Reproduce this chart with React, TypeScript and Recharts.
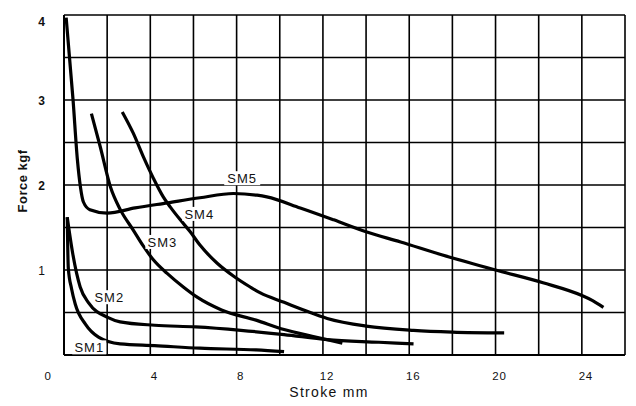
import { LineChart, Line, XAxis, YAxis, CartesianGrid, ReferenceDot } from 'recharts';

// stroke (mm) / force (kgf)
const sm1 = [
  { x: 0.15, y: 1.62 }, { x: 0.2, y: 1.02 }, { x: 0.35, y: 0.78 }, { x: 0.52, y: 0.6 },
  { x: 1.0, y: 0.36 }, { x: 1.6, y: 0.21 }, { x: 2.6, y: 0.13 }, { x: 4.2, y: 0.11 },
  { x: 6.3, y: 0.08 }, { x: 8.9, y: 0.06 }, { x: 10.2, y: 0.04 },
];
const sm2 = [
  { x: 0.15, y: 1.62 }, { x: 0.4, y: 1.2 }, { x: 0.75, y: 0.8 }, { x: 1.15, y: 0.61 },
  { x: 2.05, y: 0.44 }, { x: 2.6, y: 0.39 }, { x: 4.2, y: 0.35 }, { x: 6.1, y: 0.33 },
  { x: 8.2, y: 0.29 }, { x: 10.2, y: 0.24 }, { x: 12.2, y: 0.18 }, { x: 14.6, y: 0.15 },
  { x: 16.2, y: 0.13 },
];
const sm3 = [
  { x: 1.27, y: 2.84 }, { x: 1.68, y: 2.45 }, { x: 2.15, y: 1.98 }, { x: 2.61, y: 1.71 },
  { x: 3.21, y: 1.47 }, { x: 3.68, y: 1.28 }, { x: 4.14, y: 1.12 }, { x: 4.78, y: 0.96 },
  { x: 5.53, y: 0.8 }, { x: 6.17, y: 0.68 }, { x: 7.3, y: 0.53 }, { x: 8.9, y: 0.41 },
  { x: 10.2, y: 0.3 }, { x: 11.5, y: 0.22 }, { x: 12.9, y: 0.14 },
];
const sm4 = [
  { x: 2.7, y: 2.86 }, { x: 3.21, y: 2.61 }, { x: 3.68, y: 2.33 }, { x: 4.14, y: 2.08 },
  { x: 4.6, y: 1.86 }, { x: 4.93, y: 1.74 }, { x: 5.39, y: 1.59 }, { x: 5.85, y: 1.45 },
  { x: 6.31, y: 1.29 }, { x: 7.1, y: 1.08 }, { x: 7.85, y: 0.93 }, { x: 8.63, y: 0.8 },
  { x: 9.1, y: 0.73 }, { x: 10.2, y: 0.62 }, { x: 11.2, y: 0.52 }, { x: 12.2, y: 0.43 },
  { x: 14.0, y: 0.34 }, { x: 16.2, y: 0.29 }, { x: 18.0, y: 0.27 }, { x: 20.4, y: 0.26 },
];
const sm5 = [
  { x: 0.1, y: 3.97 }, { x: 0.42, y: 3.0 }, { x: 0.62, y: 2.3 }, { x: 0.76, y: 1.98 },
  { x: 0.9, y: 1.8 }, { x: 1.2, y: 1.71 }, { x: 2.0, y: 1.67 }, { x: 3.3, y: 1.73 },
  { x: 4.8, y: 1.79 }, { x: 6.3, y: 1.85 }, { x: 7.85, y: 1.9 }, { x: 8.95, y: 1.88 },
  { x: 9.4, y: 1.86 }, { x: 10.95, y: 1.73 }, { x: 12.5, y: 1.59 }, { x: 14.0, y: 1.45 },
  { x: 15.6, y: 1.33 }, { x: 17.5, y: 1.18 }, { x: 20.0, y: 1.0 }, { x: 22.2, y: 0.85 },
  { x: 24.0, y: 0.7 }, { x: 24.5, y: 0.64 }, { x: 25.0, y: 0.56 },
];

const xTicks = [0, 2, 4, 6, 8, 10, 12, 14, 16, 18, 20, 22, 24, 26];
const yTicks = [0, 0.5, 1, 1.5, 2, 2.5, 3, 3.5, 4];

const curveLabels = [
  { name: 'SM5', x: 8.26, y: 2.08, w: 36 },
  { name: 'SM4', x: 6.27, y: 1.66, w: 34 },
  { name: 'SM3', x: 4.56, y: 1.33, w: 34 },
  { name: 'SM2', x: 2.1, y: 0.68, w: 34 },
  { name: 'SM1', x: 1.17, y: 0.09, w: 34 },
];

const series = [sm1, sm2, sm3, sm4, sm5];
const font = '"Liberation Sans", Arial, sans-serif';

function XTick({ x, y, payload }: any) {
  const v = payload.value;
  if (v % 4 !== 0 || v > 24) return <g />;
  return (
    <text x={v === 0 ? x - 16 : x + 4} y={y} dy="0.71em" textAnchor="middle" fontSize={11.5} letterSpacing={0.8} fill="#111" fontFamily={font}>
      {v}
    </text>
  );
}

function YTick({ x, y, payload }: any) {
  const v = payload.value;
  if (!Number.isInteger(v) || v === 0) return <g />;
  return (
    <text x={x} y={v === 4 ? y + 7 : y + 1} dy="0.35em" textAnchor="end" fontSize={12} fontWeight={v === 1 ? 400 : 700} fill="#111" fontFamily={font}>
      {v}
    </text>
  );
}

export default function App() {
  return (
    <div style={{ position: 'absolute', left: 0, top: 0, width: 636, height: 406, background: '#fff' }}>
      <LineChart width={636} height={406} margin={{ top: 15, right: 11, bottom: 11, left: 0 }}>
        <CartesianGrid stroke="#000" strokeWidth={1.6} />
        <XAxis
          type="number"
          dataKey="x"
          domain={[0, 26]}
          ticks={xTicks}
          interval={0}
          height={40}
          tickSize={0}
          tickMargin={17}
          tickLine={false}
          axisLine={{ stroke: '#000', strokeWidth: 2 }}
          tick={<XTick />}
          label={{
            content: () => (
              <text x={329} y={397} textAnchor="middle" fontSize={14} letterSpacing={1.3} fill="#111" fontFamily={font}>
                Stroke mm
              </text>
            ),
          }}
        />
        <YAxis
          type="number"
          dataKey="y"
          domain={[0, 4]}
          ticks={yTicks}
          interval={0}
          width={64}
          tickSize={0}
          tickMargin={19}
          tickLine={false}
          axisLine={{ stroke: '#000', strokeWidth: 2 }}
          tick={<YTick />}
          label={{
            content: () => (
              <text x={27} y={181} transform="rotate(-90 27 181)" textAnchor="middle" fontSize={13} fontWeight={700} letterSpacing={0.5} fill="#111" fontFamily={font}>
                Force kgf
              </text>
            ),
          }}
        />
        {series.map((d, i) => (
          <Line
            key={i}
            data={d}
            dataKey="y"
            type="monotone"
            stroke="#000"
            strokeWidth={3.2}
            dot={false}
            activeDot={false}
            isAnimationActive={false}
          />
        ))}
        {curveLabels.map((l) => (
          <ReferenceDot
            key={l.name}
            x={l.x}
            y={l.y}
            r={0}
            shape={(p: any) => (
              <g>
                <rect x={p.cx - l.w / 2} y={p.cy - 7} width={l.w} height={14} fill="#fff" />
                <text x={p.cx} y={p.cy} dy="0.36em" textAnchor="middle" fontSize={13} letterSpacing={1} fill="#111" fontFamily={font}>
                  {l.name}
                </text>
              </g>
            )}
          />
        ))}
      </LineChart>
    </div>
  );
}
